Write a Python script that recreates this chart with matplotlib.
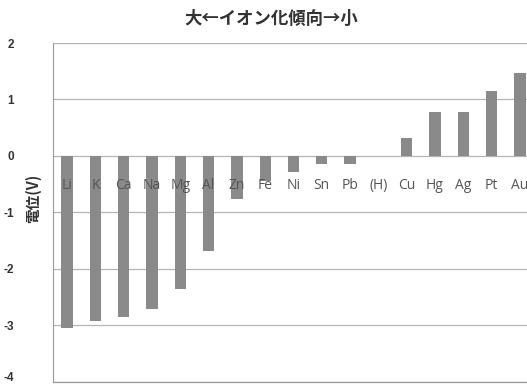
import matplotlib
matplotlib.use("Agg")
import matplotlib.pyplot as plt
from matplotlib.transforms import ScaledTranslation

# Standard electrode potentials in order of ionization tendency
elements = ["Li", "K", "Ca", "Na", "Mg", "Al", "Zn", "Fe", "Ni", "Sn", "Pb",
            "(H)", "Cu", "Hg", "Ag", "Pt", "Au"]
potentials = [-3.04, -2.92, -2.85, -2.71, -2.36, -1.68, -0.77, -0.45, -0.28,
              -0.15, -0.15, 0.0, 0.31, 0.77, 0.77, 1.15, 1.47]
y_ticks = [2, 1, 0, -1, -2, -3, -4]

jp = ["Noto Sans CJK JP", "DejaVu Sans"]
latin = ["Liberation Sans", "DejaVu Sans"]

fig = plt.figure(figsize=(5.27, 3.84), dpi=100)
ax = fig.add_axes([53 / 527, (384 - 381.7) / 384, 481 / 527, (381.7 - 43) / 384])

x = list(range(len(elements)))
ax.bar(x, potentials, width=0.4, color="#8a8a8a", zorder=2)

ax.set_xlim(-0.5, len(elements) - 0.5)
ax.set_ylim(-4, 2)
ax.set_yticks(y_ticks)
ax.set_yticklabels([str(v) for v in y_ticks], fontfamily=latin,
                   fontweight="bold", fontsize=8.5, color="#333333")
ax.set_xticks([])
ax.tick_params(axis="y", length=0, pad=28)
ax.yaxis.grid(True, color="#b4b4b4", linewidth=0.9, zorder=0)

# keep the lowest tick label inside the canvas
for lab in ax.get_yticklabels():
    if lab.get_text() == "-4":
        lab.set_transform(lab.get_transform()
                          + ScaledTranslation(0, 4 / 72, fig.dpi_scale_trans))

for side in ("top", "right"):
    ax.spines[side].set_visible(False)
ax.spines["bottom"].set_color("#9a9a9a")
ax.spines["bottom"].set_linewidth(0.9)
ax.spines["left"].set_color("#9a9a9a")
ax.spines["left"].set_linestyle((0, (1, 1)))
ax.spines["left"].set_linewidth(0.8)

# element names just under the zero line
for xi, name in zip(x, elements):
    ax.text(xi, -0.52, name, ha="center", va="center", fontsize=10,
            family=["Open Sans", "DejaVu Sans"], color="#555555", zorder=3,
            clip_on=False)

fig.text(271 / 527, 1 - 19 / 384, "大←イオン化傾向→小", ha="center", va="center",
         fontsize=12.5, fontweight="bold", family=jp, color="#333333")
fig.text(33 / 527, 1 - 198 / 384, "電位(V)", ha="center", va="center",
         rotation=90, fontsize=10.5, fontweight="bold", family=jp, color="#333333")

fig.savefig("out.png", dpi=100, facecolor="white")
